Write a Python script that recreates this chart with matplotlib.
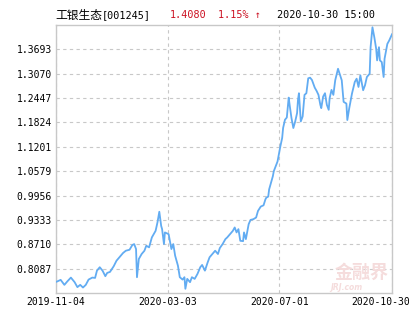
import numpy as np
import matplotlib
matplotlib.use("Agg")
import matplotlib.pyplot as plt
from matplotlib.transforms import ScaledTranslation

# Fund NAV (days counted from the first date)
START = "2019-11-04"
day_offsets = [
    0, 1, 5, 9, 12, 16, 20, 23, 26, 29, 32, 35, 39, 42, 44, 47, 50, 53, 55, 58,
    62, 65, 69, 72, 75, 79, 82, 84, 86, 87, 89, 92, 95, 97, 100, 103, 105, 107, 109, 111,
    113, 114, 116, 117, 121, 122, 124, 126, 128, 131, 133, 136, 138, 139, 141, 144, 146, 149, 152, 155,
    157, 160, 163, 165, 168, 171, 174, 176, 179, 182, 184, 187, 190, 192, 194, 196, 198, 201, 202, 204,
    207, 209, 212, 215, 217, 220, 223, 225, 226, 228, 229, 231, 233, 234, 236, 238, 241, 243, 244, 246,
    248, 250, 251, 253, 255, 257, 259, 260, 261, 263, 265, 267, 269, 271, 273, 275, 278, 280, 282, 284,
    285, 287, 289, 291, 293, 294, 296, 298, 300, 303, 307, 309, 312, 313, 315, 318, 321, 323, 325, 327,
    330, 332, 334, 337, 338, 340, 342, 344, 345, 347, 348, 350, 352, 353, 356, 358, 361,
]
nav = [
    0.7749, 0.7756, 0.7800, 0.7672, 0.7756, 0.7858, 0.7741, 0.7614, 0.7672, 0.7604,
    0.7672, 0.7807, 0.7858, 0.7850, 0.8036, 0.8123, 0.8036, 0.7894, 0.7978, 0.8003,
    0.8148, 0.8290, 0.8402, 0.8486, 0.8545, 0.8570, 0.8690, 0.8715, 0.8588, 0.7868,
    0.8334, 0.8461, 0.8545, 0.8672, 0.8631, 0.8886, 0.8969, 0.9053, 0.9267, 0.9542,
    0.9180, 0.9097, 0.8715, 0.9013, 0.8969, 0.8842, 0.8588, 0.8715, 0.8418, 0.8163,
    0.7868, 0.7807, 0.7868, 0.7571, 0.7825, 0.7741, 0.7868, 0.7825, 0.7952, 0.8123,
    0.8181, 0.8036, 0.8250, 0.8377, 0.8461, 0.8545, 0.8461, 0.8613, 0.8715, 0.8842,
    0.8886, 0.8969, 0.9053, 0.9140, 0.9013, 0.9097, 0.8799, 0.8790, 0.9013, 0.8842,
    0.9224, 0.9333, 0.9351, 0.9394, 0.9562, 0.9674, 0.9707, 0.9859, 0.9903, 0.9928,
    1.0114, 1.0284, 1.0452, 1.0579, 1.0706, 1.0826, 1.1207, 1.1429, 1.1683, 1.1894,
    1.1952, 1.2461, 1.2275, 1.1937, 1.1683, 1.1851, 1.2064, 1.2403, 1.2573, 1.1851,
    1.1978, 1.2530, 1.2573, 1.2954, 1.2970, 1.2911, 1.2715, 1.2631, 1.2530, 1.2275,
    1.2191, 1.2486, 1.2573, 1.2275, 1.2148, 1.2446, 1.2657, 1.2530, 1.2904, 1.3198,
    1.2904, 1.2352, 1.2308, 1.1886, 1.2181, 1.2563, 1.2860, 1.2944, 1.2733, 1.3031,
    1.2649, 1.2776, 1.2987, 1.3071, 1.3750, 1.4259, 1.4005, 1.3707, 1.3412, 1.3750,
    1.3412, 1.3369, 1.2987, 1.3453, 1.3834, 1.3921, 1.4080,
]

x_ticks = ["2019-11-04", "2020-03-03", "2020-07-01", "2020-10-30"]
y_ticks = [0.8087, 0.8710, 0.9333, 0.9956, 1.0579, 1.1201, 1.1824, 1.2447, 1.3070, 1.3693]
y_range = (0.7464, 1.4317)

fund_name = "工银生态"
fund_code = "[001245]"
last_nav = "1.4080"
last_change = "1.15% ↑"
stamp = "2020-10-30 15:00"

MONO = ["DejaVu Sans Mono", "Noto Sans CJK SC"]
GRID = "#c8c8c8"
RED = "#cc1122"

dates = np.datetime64(START) + np.array(day_offsets).astype("timedelta64[D]")
tick_dates = np.array(x_ticks, dtype="datetime64[D]")

fig = plt.figure(figsize=(4.15, 3.3), dpi=100)
ax = fig.add_axes([56 / 415, 37 / 330, 336 / 415, 268 / 330])

ax.plot(dates, nav, color="#62acf2", lw=1.3, solid_joinstyle="round", zorder=3)

ax.set_xlim(tick_dates[0], tick_dates[-1])
ax.set_ylim(*y_range)
ax.set_xticks(tick_dates)
ax.set_xticklabels(x_ticks)
ax.set_yticks(y_ticks)
ax.set_yticklabels([f"{v:.4f}" for v in y_ticks])
ax.tick_params(length=0, labelsize=7, pad=3)
for lbl in ax.get_xticklabels() + ax.get_yticklabels():
    lbl.set_fontfamily(MONO)

# last date label is pulled left so it stays inside the picture
last = ax.get_xticklabels()[-1]
last.set_transform(last.get_transform() + ScaledTranslation(-0.11, 0, fig.dpi_scale_trans))

ax.set_axisbelow(True)
ax.grid(True, color=GRID, linestyle=(0, (3, 3)), lw=0.8)
for sp in ax.spines.values():
    sp.set_color(GRID)
    sp.set_linewidth(1.0)

# watermark
ax.text(0.99, 0.04, "金融界", transform=ax.transAxes, ha="right", va="bottom",
        fontsize=13, fontweight="bold", color="#f5dcdc", family="Noto Sans CJK SC", zorder=1)
ax.text(0.815, 0.005, "JRJ.com", transform=ax.transAxes, ha="left", va="bottom",
        fontsize=5.5, fontstyle="italic", fontweight="bold", color="#f5dcdc", zorder=1)

# header
ty = 1 - 15 / 330
fig.text(55 / 415, ty, fund_name, family="Noto Sans CJK SC", fontsize=8.5, va="center")
fig.text(102 / 415, ty, fund_code, family=MONO, fontsize=7.3, va="center")
fig.text(170 / 415, ty, last_nav, family=MONO, fontsize=7.3, va="center", color=RED)
fig.text(218 / 415, ty, last_change, family=MONO, fontsize=7.3, va="center", color=RED)
fig.text(277 / 415, ty, stamp, family=MONO, fontsize=7.3, va="center")

fig.savefig("out.png", dpi=100)
